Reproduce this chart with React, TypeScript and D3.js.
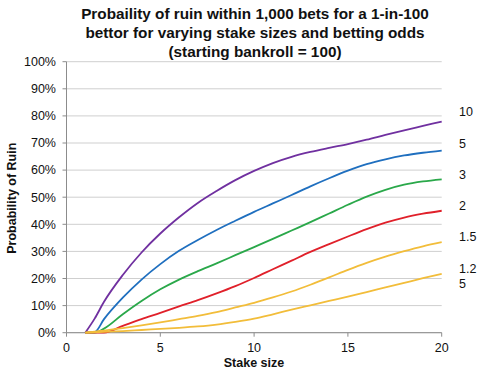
import React from 'react';
import * as d3 from 'd3';

// stake sizes (x) shared by every series
const stakes = [1, 1.5, 2, 3, 4, 5, 6, 7, 8, 9, 10, 11, 12, 13, 14, 15, 16, 17, 18, 19, 20];

// probability of ruin, %
const odds10 = [0, 5.2, 11.4, 21.3, 29.6, 36.6, 42.6, 47.9, 52.3, 56.3, 59.7, 62.6, 64.9, 66.7, 68.2, 69.6, 71.2, 73, 74.7, 76.3, 77.9];
const odds5 = [0, 0.2, 5, 12.9, 19.6, 25.3, 30.2, 34.2, 37.9, 41.3, 44.6, 47.7, 50.8, 54, 57, 59.8, 62.2, 64, 65.4, 66.4, 67.2];
const odds3 = [0, 0, 1.5, 6.8, 11.7, 16, 19.6, 22.7, 25.6, 28.6, 31.6, 34.6, 37.7, 40.8, 44, 47.2, 50.2, 52.7, 54.6, 55.8, 56.6];
const odds2 = [0, 0, 0, 2.5, 5, 7.3, 9.7, 12, 14.5, 17.2, 20.2, 23.4, 26.6, 29.8, 32.7, 35.5, 38.2, 40.6, 42.5, 43.9, 45];
const odds15 = [0, 0.4, 0.8, 1.7, 2.7, 3.8, 5, 6.2, 7.6, 9.3, 11, 13, 15.2, 17.7, 20.4, 23.2, 25.8, 28.1, 30.1, 31.9, 33.4];
const odds125 = [0, 0.15, 0.3, 0.6, 1, 1.4, 1.8, 2.3, 3, 4, 5.2, 6.8, 8.5, 10.1, 11.7, 13.3, 15, 16.7, 18.4, 20.1, 21.7];

const seriesNames = ['10', '5', '3', '2', '1.5', '1.25'];
const seriesValues = [odds10, odds5, odds3, odds2, odds15, odds125];
const seriesColors = ['#7030a0', '#1f6fbf', '#2aa84a', '#e0202a', '#f2bd3a', '#f2bd3a'];

const yTicks = [0, 0.1, 0.2, 0.3, 0.4, 0.5, 0.6, 0.7, 0.8, 0.9, 1];
const xTicks = [0, 5, 10, 15, 20];

const titleLines = [
  'Probaility of ruin within 1,000 bets for a 1-in-100',
  'bettor for varying stake sizes and betting odds',
  '(starting bankroll = 100)',
];

export default function App() {
  const width = 492;
  const height = 374;
  const margin = { top: 61.7, right: 50.3, bottom: 41.3, left: 66.5 };

  const x = d3.scaleLinear().domain([0, 20]).range([margin.left, width - margin.right]);
  const y = d3.scaleLinear().domain([0, 1]).range([height - margin.bottom, margin.top]);

  const line = d3
    .line<[number, number]>()
    .x((d) => x(d[0]))
    .y((d) => y(d[1] / 100))
    .curve(d3.curveMonotoneX);

  const font = 'Liberation Sans, Arial, Helvetica, sans-serif';
  // label nudges so the names sit just above each line's end
  const labelShift = [-10, -7.4, -4.7, -5.3, -5.6, -5.3];

  return (
    <svg
      width={width}
      height={height}
      style={{ position: 'absolute', left: 0, top: 0, background: '#fff' }}
      fontFamily={font}
    >
      {titleLines.map((t, i) => (
        <text key={t} x={255} y={18.5 + i * 19.2} textAnchor="middle" fontSize={15.3} fontWeight="bold" fill="#111">
          {t}
        </text>
      ))}

      {/* gridlines */}
      {yTicks.map((t) => (
        <line key={'g' + t} x1={x(0)} x2={x(20)} y1={y(t)} y2={y(t)} stroke="#cfcfcf" strokeWidth={1} />
      ))}

      {/* y axis */}
      <line x1={x(0)} x2={x(0)} y1={y(0)} y2={y(1)} stroke="#8c8c8c" strokeWidth={1} />
      {yTicks.map((t) => (
        <g key={'y' + t}>
          <line x1={x(0) - 4} x2={x(0)} y1={y(t)} y2={y(t)} stroke="#8c8c8c" />
          <text x={56} y={y(t)} dy="0.35em" textAnchor="end" fontSize={12.5} fill="#111">
            {d3.format('.0%')(t)}
          </text>
        </g>
      ))}

      {/* x axis */}
      <line x1={x(0)} x2={x(20)} y1={y(0)} y2={y(0)} stroke="#8c8c8c" strokeWidth={1} />
      {xTicks.map((t) => (
        <g key={'x' + t}>
          <line x1={x(t)} x2={x(t)} y1={y(0)} y2={y(0) + 4} stroke="#8c8c8c" />
          <text x={x(t)} y={352} textAnchor="middle" fontSize={12.5} fill="#111">
            {t}
          </text>
        </g>
      ))}

      <text x={254} y={366.5} textAnchor="middle" fontSize={12.5} fontWeight="bold" fill="#111">
        Stake size
      </text>
      <text
        transform={`translate(16,${(y(0) + y(1)) / 2 + 1}) rotate(-90)`}
        textAnchor="middle"
        fontSize={12.5}
        fontWeight="bold"
        fill="#111"
      >
        Probability of Ruin
      </text>

      {/* series */}
      {seriesValues.map((vals, i) => (
        <path
          key={seriesNames[i]}
          d={line(stakes.map((s, j) => [s, vals[j]] as [number, number])) || ''}
          fill="none"
          stroke={seriesColors[i]}
          strokeWidth={1.8}
        />
      ))}

      {/* series names at the right */}
      {seriesValues.map((vals, i) => {
        const ly = y(vals[vals.length - 1] / 100) + labelShift[i];
        const name = seriesNames[i];
        if (name === '1.25') {
          return (
            <text key={'l' + name} x={459} fontSize={12.5} fill="#111">
              <tspan x={459} y={ly} dy="0.35em">1.2</tspan>
              <tspan x={459} y={ly + 15.3} dy="0.35em">5</tspan>
            </text>
          );
        }
        return (
          <text key={'l' + name} x={459} y={ly} dy="0.35em" fontSize={12.5} fill="#111">
            {name}
          </text>
        );
      })}
    </svg>
  );
}
